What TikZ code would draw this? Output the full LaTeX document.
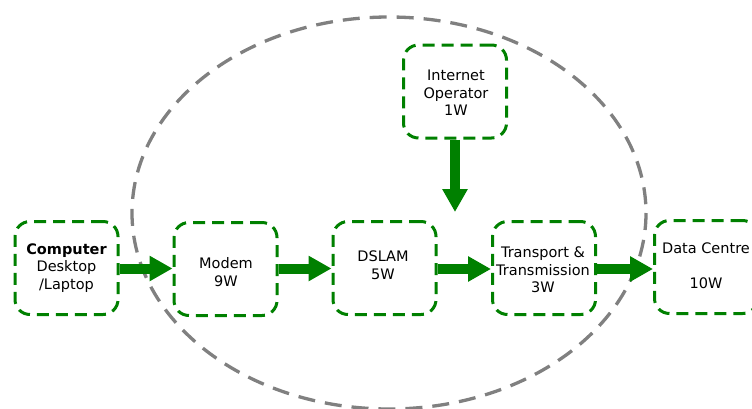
\documentclass[tikz,border=0pt]{standalone}
\usepackage{fontspec}
\setmainfont{DejaVu Sans}
\usetikzlibrary{arrows.meta}
\definecolor{boxgreen}{RGB}{0,128,0}
\definecolor{ringgray}{RGB}{128,128,128}
\tikzset{
  stage/.style={draw=boxgreen, line width=3pt, dash pattern=on 12pt off 7pt,
    rounded corners=15pt, minimum width=103pt, minimum height=93pt, inner sep=0pt},
  lbl/.style={align=center, font=\fontsize{14.5pt}{17.5pt}\selectfont, inner sep=0pt},
  flow/.style={draw=boxgreen, line width=10pt,
    -{Triangle[length=23pt,width=24pt]}, shorten >=0pt},
  ring/.style={draw=ringgray, line width=3.3pt, dash pattern=on 17pt off 10pt}
}
\begin{document}
\begin{tikzpicture}[x=1pt,y=-1pt]
  \useasboundingbox (0,0) rectangle (752,408);
  % scope boundary around the access network
  \draw[ring] (389,213) ellipse [x radius=257, y radius=196];

  % equipment boxes
  \node[stage] (comp)  at (66.5,268) {};
  \node[stage] (modem) at (225.5,269) {};
  \node[stage] (dslam) at (384.5,268) {};
  \node[stage] (trans) at (544,268) {};
  \node[stage] (dc)    at (706,267) {};
  \node[stage] (iop)   at (455,91.5) {};

  % box captions
  \node[lbl] (comptxt)  at (66.5,268) {\textbf{Computer}\\Desktop\\/Laptop};
  \node[lbl] (modemtxt) at (226,272) {Modem\\9W};
  \node[lbl] (dslamtxt) at (383,265) {DSLAM\\5W};
  \node[lbl] (transtxt) at (543,270) {Transport \&\\Transmission\\3W};
  \node[lbl] (dctxt)    at (706,266) {Data Centre\\[17.5pt]10W};
  \node[lbl] (ioptxt)   at (456,93) {Internet\\Operator\\1W};

  % power flow arrows
  \coordinate (iopend) at (455,212);
  \draw[flow] (comp.east |- 0,268.5) -- (modem.west |- 0,268.5);
  \draw[flow] (modem.east |- 0,268.5) -- (dslam.west |- 0,268.5);
  \draw[flow] (dslam.east |- 0,269) -- (trans.west |- 0,269);
  \draw[flow] (trans.east |- 0,269) -- (dc.west |- 0,269);
  \draw[flow] (iop.south) -- (iopend);
\end{tikzpicture}
\end{document}
